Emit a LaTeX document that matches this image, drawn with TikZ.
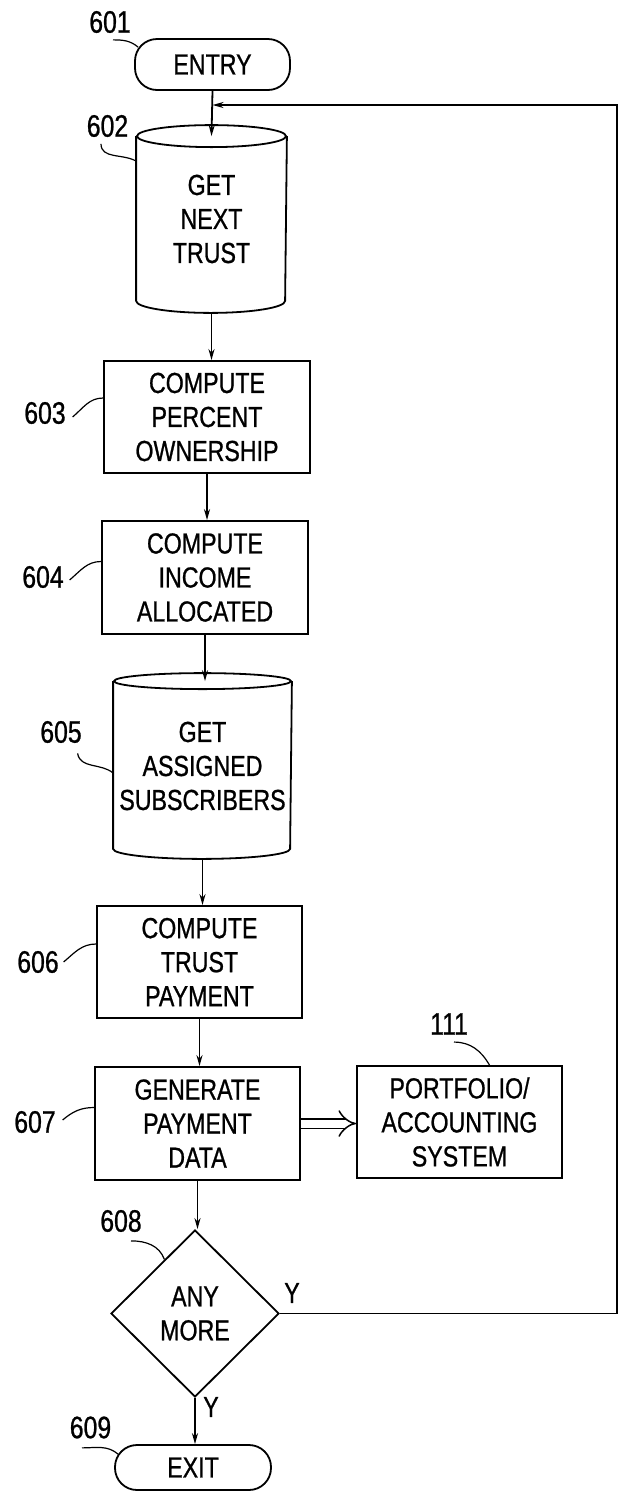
\documentclass[tikz,border=0pt]{standalone}
\usepackage{fontspec}
\setmainfont{Liberation Sans}[FakeStretch=0.8,FakeBold=0.8]
\usetikzlibrary{arrows.meta,shapes.geometric,calc}
\begin{document}
\begin{tikzpicture}[x=1pt,y=1pt,
  line width=1.8pt,
  txt/.style={font=\fontsize{29}{34}\selectfont, align=center},
  box/.style={txt, draw, rectangle, inner sep=0pt, minimum width=205, minimum height=112},
  pill/.style={txt, draw, rectangle, rounded corners=22pt, inner sep=0pt},
  cylbody/.style={txt, inner sep=0pt},
  dec/.style={txt, draw, diamond, inner sep=0pt, aspect=1, minimum width=168, minimum height=167},
  num/.style={font=\fontsize{31}{34}\selectfont, inner sep=0pt},
  arr/.style={-{Stealth[length=11pt,width=6pt]}},
  lead/.style={line width=1.2pt},
]
\useasboundingbox (0,0) rectangle (624,-1492);

% nodes
\node[pill, minimum width=155, minimum height=51] (n601) at (212.5,-64.5) {ENTRY};
\node[cylbody, minimum width=149, minimum height=186] (n602) at (211.5,-219) {GET\\NEXT\\TRUST};
\node[box, minimum width=206] (n603) at (207,-417) {COMPUTE\\PERCENT\\OWNERSHIP};
\node[box, minimum width=206, minimum height=113] (n604) at (205,-577.5) {COMPUTE\\INCOME\\ALLOCATED};
\node[cylbody, minimum width=177, minimum height=184] (n605) at (202.5,-766) {GET\\ASSIGNED\\SUBSCRIBERS};
\node[box] (n606) at (199.5,-962) {COMPUTE\\TRUST\\PAYMENT};
\node[box, minimum height=113] (n607) at (197.5,-1123.5) {GENERATE\\PAYMENT\\DATA};
\node[box] (n111) at (459.5,-1122) {PORTFOLIO/\\ACCOUNTING\\SYSTEM};
\node[dec] (n608) at (195,-1313.5) {ANY\\MORE};
\node[pill, minimum width=156, minimum height=45] (n609) at (193,-1467.5) {EXIT};

% cylinder outlines
\draw ([yshift=-11]n602.north west) -- ([yshift=12]n602.south west)
  arc[start angle=180, end angle=360, x radius=74.5, y radius=12]
  -- ([yshift=-11]n602.north east);
\draw ([yshift=-11]n602.north) ellipse [x radius=74.5, y radius=11];
\draw ([yshift=-8]n605.north west) -- ([yshift=10]n605.south west)
  arc[start angle=180, end angle=360, x radius=88.5, y radius=10]
  -- ([yshift=-8]n605.north east);
\draw ([yshift=-8]n605.north) ellipse [x radius=88.5, y radius=8];

% reference numerals
\node[num] (l601) at (110,-22) {601};
\node[num] (l602) at (107.5,-126) {602};
\node[num] (l603) at (45,-413) {603};
\node[num] (l604) at (43,-577) {604};
\node[num] (l605) at (61,-732) {605};
\node[num] (l606) at (38,-962) {606};
\node[num] (l607) at (35,-1122) {607};
\node[num] (l111) at (449,-1024) {111};
\node[num] (l608) at (121,-1221) {608};
\node[num] (l609) at (90.5,-1427.5) {609};
\node[txt, inner sep=0pt] (yr) at (292,-1293) {Y};
\node[txt, inner sep=0pt] (yb) at (211,-1407) {Y};

% leaders
\draw[lead] ([xshift=3,yshift=-6]l601.south) to[out=0,in=140] ([xshift=4,yshift=-9]n601.north west);
\draw[lead] ([xshift=-6.5,yshift=-6]l602.south) to[out=-90,in=150] ([yshift=-36]n602.north west);
\draw[lead] ([xshift=6,yshift=-4]l603.east) to[out=40,in=180] ([yshift=19]n603.west);
\draw[lead] ([xshift=5,yshift=-3]l604.east) to[out=40,in=180] ([yshift=16]n604.west);
\draw[lead] ([xshift=-5,yshift=-9.5]l605.south east) to[out=-80,in=140] ([yshift=-7]n605.west);
\draw[lead] ([xshift=4,yshift=0]l606.east) to[out=40,in=180] ([yshift=18]n606.west);
\draw[lead] ([xshift=6,yshift=2]l607.east) to[out=40,in=180] ([yshift=16]n607.west);
\draw[lead] ([xshift=5,yshift=-6.5]l111.south) to[out=0,in=120] ([xshift=30]n111.north);
\draw[lead] ([xshift=10,yshift=-8]l608.south) to[out=0,in=110] ($(n608.north)!0.36!(n608.west)$);
\draw[lead] ([xshift=-8.5,yshift=-8.5]l609.south) to[out=0,in=140] ([xshift=4,yshift=-10]n609.north west);

% connectors
\coordinate (merge) at (212.5,-105);
\coordinate (rc) at (617,-105);
\draw[arr] (n601.south) -- ([yshift=-11]n602.north);
\draw[arr] (n602.south) -- (n602.south |- n603.north);
\draw[arr] (n603.south) -- (n603.south |- n604.north);
\draw[arr] (n604.south) -- ([yshift=-8]n604.south |- n605.north);
\draw[arr] (n605.south) -- (n605.south |- n606.north);
\draw[arr] (n606.south) -- (n606.south |- n607.north);
\draw[arr] (n607.south) -- (n607.south |- n608.north);
\draw[arr] (n608.south) -- (n608.south |- n609.north);
\draw[double, double distance=8pt, line width=1.5pt, -{Implies}] (n607.east) -- (n607.east -| n111.west);
\draw[arr] (n608.east) -| (rc) -- (merge);
\end{tikzpicture}
\end{document}
